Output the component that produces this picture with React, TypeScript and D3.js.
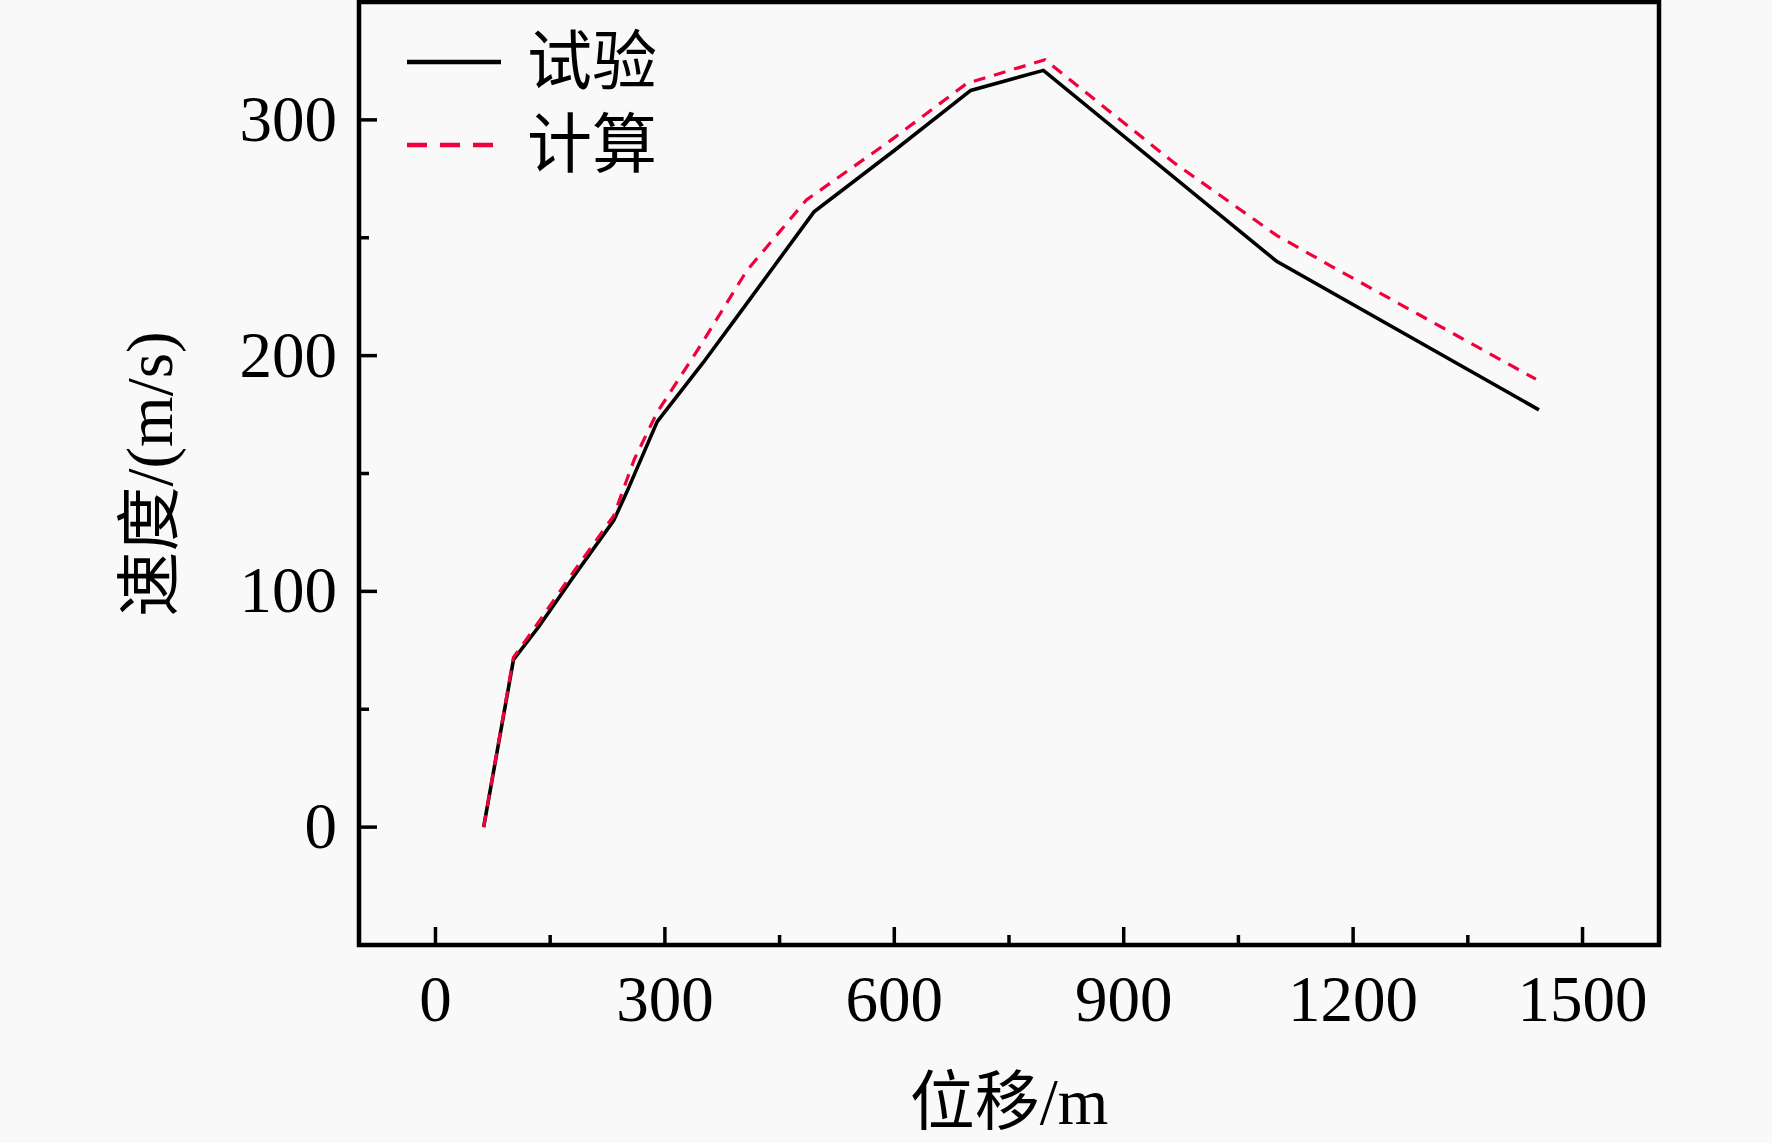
import { useEffect, useRef } from "react";
import * as d3 from "d3";

// ---------------------------------------------------------------------------
// Data
// ---------------------------------------------------------------------------

const TEST_X = [63, 102, 135, 180, 233, 250, 290, 350, 400, 495, 600, 700, 795, 1100, 1443];
const TEST_V = [0, 71, 85, 106, 130, 142, 172, 197, 219, 261, 287, 312.5, 321, 240, 177];

const CALC_X = [63, 102, 135, 180, 233, 260, 290, 346, 407, 485, 594, 695, 797, 965, 1100, 1171, 1439];
const CALC_V = [0, 72, 87, 108, 132, 156, 176, 204, 236, 266, 291, 315.5, 325.5, 282, 251, 238, 190];

const X_MAJOR = [0, 300, 600, 900, 1200, 1500];
const X_MINOR = [150, 450, 750, 1050, 1350];
const Y_MAJOR = [0, 100, 200, 300];
const Y_MINOR = [50, 150, 250];

const SERIES = [
  { name: "试验", xs: TEST_X, ys: TEST_V, color: "#000000", dash: null, width: 3.6 },
  { name: "计算", xs: CALC_X, ys: CALC_V, color: "#f0003c", dash: "12,9", width: 3.2 },
];

const W = 1772;
const H = 1143;
const FONT = "'Liberation Serif', 'Times New Roman', 'Noto Sans CJK SC', serif";

export default function App() {
  const svgRef = useRef<SVGSVGElement>(null);

  useEffect(() => {
    const svg = d3.select(svgRef.current);
    svg.selectAll("*").remove();

    const left = 359;
    const right = 1659;
    const top = 2;
    const bottom = 945;

    const x = d3.scaleLinear().domain([-100, 1600]).range([left, right]);
    const y = d3.scaleLinear().domain([-50, 350]).range([bottom, top]);

    svg.append("rect").attr("width", W).attr("height", H).attr("fill", "#f9f9f9");

    // ---- Lines ----
    const line = d3
      .line<[number, number]>()
      .x((d) => x(d[0]))
      .y((d) => y(d[1]));

    SERIES.forEach((s) => {
      const pts = s.xs.map((v, i) => [v, s.ys[i]] as [number, number]);
      svg
        .append("path")
        .attr("d", line(pts))
        .attr("fill", "none")
        .attr("stroke", s.color)
        .attr("stroke-width", s.width)
        .attr("stroke-linejoin", "miter")
        .attr("stroke-dasharray", s.dash);
    });

    // ---- Frame ----
    svg
      .append("rect")
      .attr("x", left)
      .attr("y", top)
      .attr("width", right - left)
      .attr("height", bottom - top)
      .attr("fill", "none")
      .attr("stroke", "#000")
      .attr("stroke-width", 4.5);

    // ---- Ticks (inward) ----
    const ticks = svg.append("g").attr("stroke", "#000").attr("stroke-width", 3.5);
    X_MAJOR.concat(X_MINOR).forEach((v) => {
      const len = X_MAJOR.includes(v) ? 18 : 10;
      ticks.append("line").attr("x1", x(v)).attr("x2", x(v)).attr("y1", bottom).attr("y2", bottom - len);
    });
    Y_MAJOR.concat(Y_MINOR).forEach((v) => {
      const len = Y_MAJOR.includes(v) ? 18 : 10;
      ticks.append("line").attr("x1", left).attr("x2", left + len).attr("y1", y(v)).attr("y2", y(v));
    });

    // ---- Tick labels ----
    svg
      .append("g")
      .selectAll("text")
      .data(X_MAJOR)
      .join("text")
      .attr("x", (d) => x(d))
      .attr("y", 1021)
      .attr("text-anchor", "middle")
      .attr("font-family", FONT)
      .attr("font-size", 65)
      .attr("fill", "#000")
      .text((d) => String(d));

    svg
      .append("g")
      .selectAll("text")
      .data(Y_MAJOR)
      .join("text")
      .attr("x", 337)
      .attr("y", (d) => y(d) + 21)
      .attr("text-anchor", "end")
      .attr("font-family", FONT)
      .attr("font-size", 65)
      .attr("fill", "#000")
      .text((d) => String(d));

    // ---- Axis titles ----
    svg
      .append("text")
      .attr("x", 1009)
      .attr("y", 1124)
      .attr("text-anchor", "middle")
      .attr("font-family", FONT)
      .attr("font-size", 65)
      .attr("fill", "#000")
      .text("位移/m");

    svg
      .append("text")
      .attr("transform", "translate(172,474) rotate(-90)")
      .attr("text-anchor", "middle")
      .attr("font-family", FONT)
      .attr("font-size", 65)
      .attr("fill", "#000")
      .text("速度/(m/s)");

    // ---- Legend ----
    const legendY = [62, 145];
    SERIES.forEach((s, i) => {
      svg
        .append("line")
        .attr("x1", 407)
        .attr("x2", 501)
        .attr("y1", legendY[i])
        .attr("y2", legendY[i])
        .attr("stroke", s.color)
        .attr("stroke-width", 4.5)
        .attr("stroke-dasharray", s.dash ? "20,13" : null);
      svg
        .append("text")
        .attr("x", 527)
        .attr("y", legendY[i] + 22)
        .attr("font-family", FONT)
        .attr("font-size", 65)
        .attr("fill", "#000")
        .text(s.name);
    });
  }, []);

  return (
    <div style={{ position: "absolute", left: 0, top: 0, width: W, height: H }}>
      <svg ref={svgRef} width={W} height={H} style={{ display: "block" }} />
    </div>
  );
}
